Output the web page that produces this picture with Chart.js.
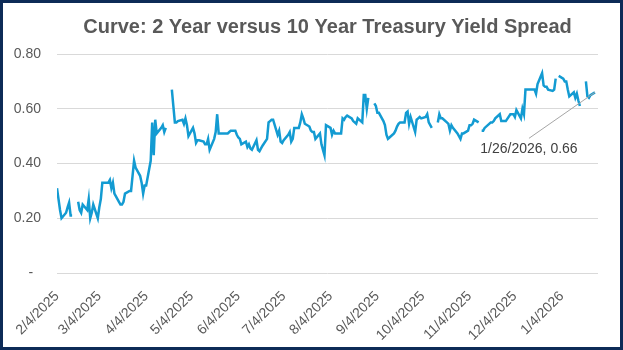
<!DOCTYPE html>
<html>
<head>
<meta charset="utf-8">
<script src="https://cdn.jsdelivr.net/npm/chart.js@4.4.1/dist/chart.umd.min.js"></script>
<style>
html, body { margin: 0; padding: 0; background: #fff; }
#wrap { width: 623px; height: 350px; }
</style>
</head>
<body>
<div id="wrap"><canvas id="myChart" width="623" height="350"></canvas></div>
<script>
// 2y vs 10y spread, one value per weekday from Tue 2/4/2025, null = no print (holiday)
var firstDay = '2025-02-04'
var lastAxisDay = '2026-01-28'
var spread = [
  0.31, 0.27, 0.23, 0.20,
  0.22, 0.24, 0.257, 0.21, 0.21,
  null, 0.26, 0.23, 0.22, 0.25,
  0.23, 0.27, 0.20, 0.22, 0.25,
  0.20, 0.24, 0.27, 0.33, 0.33,
  0.33, 0.34, 0.31, 0.33, 0.29,
  0.26, 0.25, 0.25, 0.26, 0.29,
  0.30, 0.30, 0.355, 0.41, 0.385,
  0.355, 0.33, 0.29, 0.32, 0.32,
  0.41, 0.55, 0.43, 0.56, 0.51,
  0.53, 0.54, 0.515, 0.53, null,
  0.67, 0.61, 0.55, 0.55, 0.555,
  0.56, 0.545, 0.565, 0.54, 0.50,
  0.53, 0.51, 0.475, 0.485, 0.485,
  0.48, 0.47, 0.47, 0.49, 0.45,
  0.49, 0.515, 0.58, 0.51, 0.51,
  0.51, 0.51, 0.51, 0.515, 0.52,
  0.52, 0.505, 0.495, 0.49, 0.47,
  0.48, 0.46, 0.47, 0.455, 0.45,
  0.485, 0.45, 0.445, 0.455, 0.465,
  0.49, 0.55, 0.555, 0.56, 0.56,
  0.505, 0.52, 0.48, 0.475, 0.485,
  0.505, 0.515, 0.48, 0.49, 0.53,
  0.53, 0.55, 0.58, 0.565, 0.545,
  0.535, 0.52, 0.515, 0.515, 0.49,
  0.51, 0.47, 0.45, 0.43, 0.54,
  0.53, 0.505, 0.52, 0.51, 0.51,
  0.51, 0.565, 0.56, 0.57, 0.575,
  0.565, 0.555, 0.55, 0.545, 0.565,
  0.55, 0.65, 0.65, 0.60, 0.64,
  null, 0.62, 0.61, 0.585, 0.585,
  0.555, 0.54, 0.505, 0.49, 0.495,
  0.51, 0.52, 0.535, 0.545, 0.55,
  0.55, 0.585, 0.59, 0.545, 0.57,
  0.515, 0.56, 0.565, 0.57, 0.565,
  0.57, 0.58, 0.55, 0.54, 0.53,
  null, 0.55, 0.58, 0.565, 0.565,
  0.55, 0.545, 0.52, 0.54, 0.53,
  0.51, 0.50, 0.49, 0.51, 0.51,
  0.52, 0.54, 0.54, 0.545, 0.56,
  0.55, null, 0.52, 0.52, 0.53,
  0.545, 0.55, 0.55, 0.555, 0.565,
  0.58, 0.555, 0.555, 0.555, 0.555,
  0.58, 0.58, 0.58, 0.57, 0.595,
  0.565, 0.60, 0.58, 0.67, 0.67,
  0.67, 0.67, 0.67, 0.655, 0.69,
  0.73, 0.685, 0.68, 0.68, 0.67,
  0.665, 0.67, 0.71, null, 0.72,
  0.71, 0.70, 0.70, 0.67, 0.645,
  0.66, 0.64, 0.655, 0.63, 0.61,
  null, 0.70, 0.645, 0.64, 0.65,
  0.66
]
var tickLabels = ['2/4/2025', '3/4/2025', '4/4/2025', '5/4/2025', '6/4/2025', '7/4/2025',
  '8/4/2025', '9/4/2025', '10/4/2025', '11/4/2025', '12/4/2025', '1/4/2026']
var yTicks = [0, 0.2, 0.4, 0.6, 0.8]
var calloutDay = '2026-01-26'
var calloutText = '1/26/2026, 0.66'
var titleText = 'Curve: 2 Year versus 10 Year Treasury Yield Spread'

function dayNum(d) { return Math.round(d.getTime() / 86400000) }
var start = new Date(firstDay + 'T00:00:00Z')
function offsetOf(iso) { return dayNum(new Date(iso + 'T00:00:00Z')) - dayNum(start) }
function offsetOfLabel(s) {
  var p = s.split('/')
  return dayNum(new Date(Date.UTC(+p[2], +p[0] - 1, +p[1]))) - dayNum(start)
}

// weekdays only, holidays stay in the list as null
var points = []
var d = new Date(start)
for (var i = 0; i < spread.length; i++) {
  points.push({x: dayNum(d) - dayNum(start), y: spread[i]})
  do { d.setUTCDate(d.getUTCDate() + 1) } while (d.getUTCDay() == 0 || d.getUTCDay() == 6)
}

var tickDays = tickLabels.map(offsetOfLabel)
var labelByDay = {}
tickDays.forEach(function (v, i) { labelByDay[v] = tickLabels[i] })

var frame = {
  id: 'frame',
  beforeDraw: function (chart) {
    var c = chart.ctx
    c.save()
    c.fillStyle = '#ffffff'
    c.fillRect(0, 0, chart.width, chart.height)
    c.restore()
  },
  afterDraw: function (chart) {
    var c = chart.ctx
    c.save()
    c.strokeStyle = '#0d2b57'
    c.lineWidth = 3
    c.strokeRect(1.5, 1.5, chart.width - 3, chart.height - 3)
    c.restore()
  }
}

var callout = {
  id: 'callout',
  afterDatasetsDraw: function (chart) {
    var meta = chart.getDatasetMeta(0)
    var target = offsetOf(calloutDay)
    var idx = points.findIndex(function (p) { return p.x == target })
    if (idx < 0) return
    var el = meta.data[idx]
    var c = chart.ctx
    var tx = el.x - 66, ty = el.y + 46
    c.save()
    c.strokeStyle = '#a6a6a6'
    c.lineWidth = 1
    c.beginPath()
    c.moveTo(tx, ty)
    c.lineTo(el.x, el.y)
    c.stroke()
    c.fillStyle = '#404040'
    c.font = "14px 'Liberation Sans', Arial, sans-serif"
    c.textAlign = 'center'
    c.textBaseline = 'middle'
    c.fillText(calloutText, tx, ty + 11)
    c.restore()
  }
}

Chart.defaults.font.family = "'Liberation Sans', Arial, sans-serif"
Chart.defaults.color = '#595959'

const ctx = document.getElementById('myChart')

new Chart(ctx, {
  type: 'line',
  data: {
    datasets: [{
      label: '2s10s',
      data: points,
      borderColor: '#139bd2',
      borderWidth: 2.5,
      pointRadius: 0,
      tension: 0,
      spanGaps: false,
      fill: false
    }]
  },
  options: {
    responsive: false,
    animation: false,
    devicePixelRatio: 1,
    layout: { padding: { top: 0, right: 25, bottom: 0, left: 0 } },
    plugins: {
      legend: { display: false },
      tooltip: { enabled: false },
      title: {
        display: true,
        text: titleText,
        fullSize: false,
        color: '#595959',
        font: { size: 20, weight: 'bold' },
        padding: { top: 15, bottom: 15 }
      }
    },
    scales: {
      x: {
        type: 'linear',
        min: 0,
        max: offsetOf(lastAxisDay),
        grid: { display: false },
        border: { display: false },
        afterBuildTicks: function (scale) {
          scale.ticks = tickDays.map(function (v) { return {value: v} })
        },
        afterFit: function (scale) { scale.height = 77 },
        ticks: {
          autoSkip: false,
          minRotation: 45,
          maxRotation: 45,
          padding: 7,
          font: { size: 14 },
          callback: function (v) { return labelByDay[v] || '' }
        }
      },
      y: {
        min: 0,
        max: 0.8,
        grid: { color: '#d9d9d9', drawTicks: false },
        border: { display: false },
        afterBuildTicks: function (scale) {
          scale.ticks = yTicks.map(function (v) { return {value: v} })
        },
        afterFit: function (scale) { scale.width = 57 },
        ticks: {
          padding: 16,
          font: { size: 14 },
          callback: function (v) { return v == 0 ? '-  ' : v.toFixed(2) }
        }
      }
    }
  },
  plugins: [frame, callout]
})
</script>
</body>
</html>
